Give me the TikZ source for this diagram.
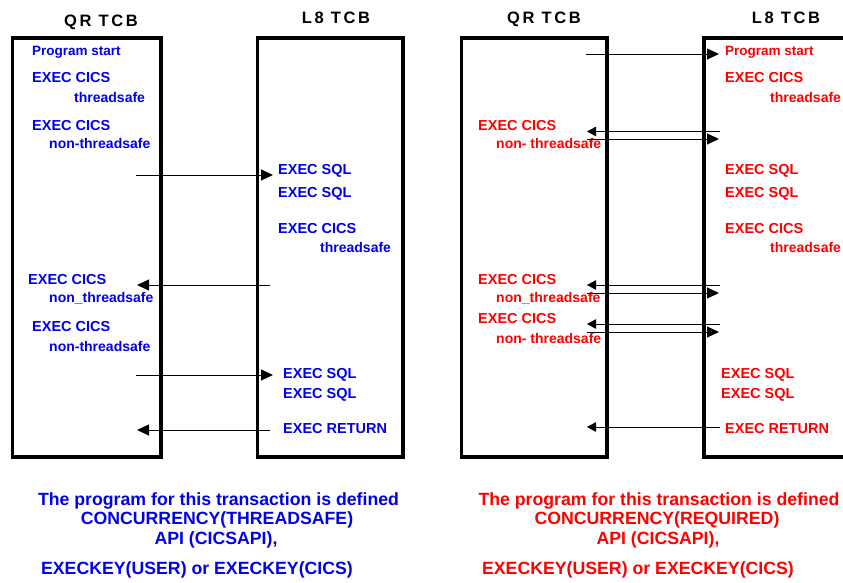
\documentclass[tikz,border=0pt]{standalone}
\usepackage{fontspec}
\setmainfont{Liberation Sans}
\newfontfamily\titlefont[LetterSpace=16]{Liberation Sans}
\usetikzlibrary{arrows.meta}
\definecolor{cblue}{RGB}{0,0,235}
\definecolor{cred}{RGB}{255,0,0}
\begin{document}
\begin{tikzpicture}[x=1pt,y=-1pt,
  tcb/.style={draw=black,line width=3.6pt,inner sep=0pt,rectangle},
  ttl/.style={anchor=base,inner sep=0pt,font=\titlefont\bfseries\fontsize{16.5}{18}\selectfont},
  lbl/.style={anchor=base west,inner sep=0pt,font=\bfseries\fontsize{14.5}{16}\selectfont},
  sml/.style={anchor=base west,inner sep=0pt,font=\bfseries\fontsize{14}{16}\selectfont},
  pst/.style={anchor=base west,inner sep=0pt,font=\bfseries\fontsize{13.5}{16}\selectfont},
  bl/.style={text=cblue},
  rd/.style={text=cred},
  conn/.style={draw=black,line width=0.9pt,-{Triangle[length=12pt,width=11pt]}},
  connS/.style={draw=black,line width=0.9pt,-{Triangle[length=9pt,width=9.5pt]}},
  foot/.style={anchor=base,inner sep=0pt,font=\bfseries\fontsize{17.7}{20}\selectfont},
]
\useasboundingbox (0,0) rectangle (843,583);
\clip (0,0) rectangle (843,583);

% ---------- boxes ----------
\node[tcb,minimum width=148.5pt,minimum height=419pt] (qrL) at (86.75,247.5) {};
\node[tcb,minimum width=145.5pt,minimum height=419pt] (l8L) at (330.25,247.5) {};
\node[tcb,minimum width=145.5pt,minimum height=419pt] (qrR) at (534.25,247.5) {};
\node[tcb,minimum width=146pt,minimum height=419pt] (l8R) at (777,247.5) {};

% ---------- titles ----------
\node[ttl] (tqL) at (101,27) {QR TCB};
\node[ttl] (tlL) at (336,24) {L8 TCB};
\node[ttl] (tqR) at (544,24) {QR TCB};
\node[ttl] (tlR) at (786,24) {L8 TCB};

% ---------- left panel texts ----------
\node[pst,bl] (qL1) at (32,56) {Program start};
\node[lbl,bl] (qL2) at (32,83) {EXEC CICS};
\node[sml,bl] (qL3) at (74,103) {threadsafe};
\node[lbl,bl] (qL4) at (32,131) {EXEC CICS};
\node[sml,bl] (qL5) at (49,149) {non-threadsafe};
\node[lbl,bl] (lL1) at (278,174) {EXEC SQL};
\node[lbl,bl] (lL2) at (278,197) {EXEC SQL};
\node[lbl,bl] (lL3) at (278,233) {EXEC CICS};
\node[sml,bl] (lL4) at (320,252) {threadsafe};
\node[lbl,bl] (qL6) at (28,284) {EXEC CICS};
\node[sml,bl] (qL7) at (49,302) {non\_threadsafe};
\node[lbl,bl] (qL8) at (32,331) {EXEC CICS};
\node[sml,bl] (qL9) at (49,351) {non-threadsafe};
\node[lbl,bl] (lL5) at (283,378) {EXEC SQL};
\node[lbl,bl] (lL6) at (283,398) {EXEC SQL};
\node[lbl,bl] (lL7) at (283,433) {EXEC RETURN};

% ---------- right panel texts ----------
\node[pst,rd] (lR1) at (725,56) {Program start};
\node[lbl,rd] (lR2) at (725,83) {EXEC CICS};
\node[sml,rd] (lR3) at (770,103) {threadsafe};
\node[lbl,rd] (qR1) at (478,131) {EXEC CICS};
\node[sml,rd] (qR2) at (496,149) {non- threadsafe};
\node[lbl,rd] (lR4) at (725,174) {EXEC SQL};
\node[lbl,rd] (lR5) at (725,197) {EXEC SQL};
\node[lbl,rd] (lR6) at (725,233) {EXEC CICS};
\node[sml,rd] (lR7) at (770,252) {threadsafe};
\node[lbl,rd] (qR3) at (478,284) {EXEC CICS};
\node[sml,rd] (qR4) at (496,302) {non\_threadsafe};
\node[lbl,rd] (qR5) at (478,323) {EXEC CICS};
\node[sml,rd] (qR6) at (496,343) {non- threadsafe};
\node[lbl,rd] (lR8) at (721,378) {EXEC SQL};
\node[lbl,rd] (lR9) at (721,398) {EXEC SQL};
\node[lbl,rd] (lR10) at (725,433) {EXEC RETURN};

% ---------- left panel arrows ----------
\coordinate (a1s) at (136,175); \coordinate (a1e) at (273,175);
\coordinate (a2s) at (270,285); \coordinate (a2e) at (137,285);
\coordinate (a3s) at (136,375); \coordinate (a3e) at (273,375);
\coordinate (a4s) at (270,430); \coordinate (a4e) at (137,430);
\draw[conn] (a1s) -- (a1e);
\draw[conn] (a2s) -- (a2e);
\draw[conn] (a3s) -- (a3e);
\draw[conn] (a4s) -- (a4e);

% ---------- right panel arrows ----------
\coordinate (b1s) at (586,54);    \coordinate (b1e) at (719,54);
\coordinate (b2s) at (720,131.5); \coordinate (b2e) at (587,131.5);
\coordinate (b3s) at (587,139);   \coordinate (b3e) at (719,139);
\coordinate (b4s) at (720,285);   \coordinate (b4e) at (587,285);
\coordinate (b5s) at (587,293);   \coordinate (b5e) at (719,293);
\coordinate (b6s) at (720,324);   \coordinate (b6e) at (587,324);
\coordinate (b7s) at (587,332);   \coordinate (b7e) at (719,332);
\coordinate (b8s) at (720,427);   \coordinate (b8e) at (587,427);
\draw[conn] (b1s) -- (b1e);
\draw[connS] (b2s) -- (b2e);
\draw[conn] (b3s) -- (b3e);
\draw[connS] (b4s) -- (b4e);
\draw[conn] (b5s) -- (b5e);
\draw[connS] (b6s) -- (b6e);
\draw[conn] (b7s) -- (b7e);
\draw[connS] (b8s) -- (b8e);

% ---------- footers ----------
\node[foot,bl] (fL1) at (218.5,505) {The program for this transaction is defined};
\node[foot,bl] (fL2) at (217,524) {CONCURRENCY(THREADSAFE)};
\node[foot,bl] (fL3) at (216,544) {API (CICSAPI),};
\node[foot,bl] (fL4) at (197,574) {EXECKEY(USER) or EXECKEY(CICS)};
\node[foot,rd] (fR1) at (659,505) {The program for this transaction is defined};
\node[foot,rd] (fR2) at (657,524) {CONCURRENCY(REQUIRED)};
\node[foot,rd] (fR3) at (658,544) {API (CICSAPI),};
\node[foot,rd] (fR4) at (638,574) {EXECKEY(USER) or EXECKEY(CICS)};
\end{tikzpicture}
\end{document}
